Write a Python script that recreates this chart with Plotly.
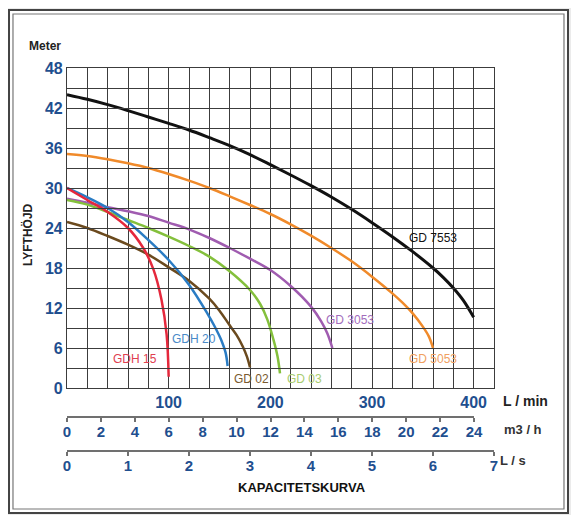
import plotly.graph_objects as go

# pump curves: flow in L/min, head in meter
gd7553_q = [0, 20, 40, 60, 80, 100, 120, 140, 160, 180, 200, 220, 240, 260, 280, 300, 320, 340,
            360, 370, 380, 390, 400]
gd7553_h = [44, 43.3, 42.5, 41.6, 40.65, 39.7, 38.7, 37.55, 36.35, 35, 33.5, 31.95, 30.35, 28.65,
            26.8, 24.8, 22.7, 20.45, 18, 16.6, 15, 13.1, 10.6]

gd5053_q = [0, 20, 40, 60, 80, 100, 120, 140, 160, 180, 200, 220, 240, 260, 280, 300, 320, 330,
            340, 350, 356, 360]
gd5053_h = [35.1, 34.8, 34.3, 33.7, 33, 32.1, 31.1, 30, 28.75, 27.45, 26.1, 24.55, 22.85, 21,
            19, 16.7, 14.2, 12.8, 11.2, 9.2, 7.7, 6]

gd3053_q = [0, 20, 40, 60, 80, 100, 120, 140, 160, 180, 200, 220, 240, 250, 256, 261]
gd3053_h = [28.4, 27.8, 27.1, 26.5, 25.8, 24.8, 23.8, 22.5, 21, 19.4, 17.7, 15.3, 12.2, 10, 8.2, 6]

gd03_q = [0, 20, 40, 60, 80, 100, 120, 140, 160, 180, 190, 197, 203, 207, 209.5]
gd03_h = [28.2, 27.5, 26.4, 25.2, 24, 22.7, 21.3, 19.7, 17.5, 14.7, 12.6, 10.3, 7.3, 4.8, 2.2]

gd02_q = [0, 20, 40, 60, 80, 100, 120, 140, 150, 160, 167, 173, 177, 180]
gd02_h = [24.9, 24, 22.8, 21.5, 20, 18.1, 16.1, 13.4, 11.6, 9.4, 7.9, 6.2, 4.7, 3.1]

gdh20_q = [0, 20, 40, 60, 80, 100, 120, 138, 145, 152, 156, 158]
gdh20_h = [30, 28.6, 27, 24.9, 22.2, 19.2, 15.5, 11.2, 9.3, 7.1, 5.3, 3.3]

gdh15_q = [0, 20, 40, 60, 75, 85, 93, 98, 100]
gdh15_h = [30, 28.2, 26.4, 24, 21, 17.8, 13.2, 8, 1.7]

# axis ticks
lmin_ticks = list(range(0, 421, 20))
lmin_labels = [str(v) if v in (100, 200, 300, 400) else "" for v in lmin_ticks]
head_ticks = list(range(0, 49, 3))
head_labels = [str(v) if v % 6 == 0 else "" for v in head_ticks]
m3h_ticks = list(range(0, 25, 2))
ls_ticks = list(range(0, 8))

BLUE = "#1f4f8f"
GRID = "#3c3c3c"

curves = [
    ("GD 3053", gd3053_q, gd3053_h, "#a05cb0", 2.5),
    ("GD 03", gd03_q, gd03_h, "#84c03c", 2.5),
    ("GD 02", gd02_q, gd02_h, "#6b4a1e", 2.5),
    ("GDH 20", gdh20_q, gdh20_h, "#2a7cc4", 2.5),
    ("GDH 15", gdh15_q, gdh15_h, "#e5283c", 2.5),
    ("GD 5053", gd5053_q, gd5053_h, "#f08a2a", 2.5),
    ("GD 7553", gd7553_q, gd7553_h, "#111111", 3),
]

fig = go.Figure()
for name, q, h, col, w in curves:
    fig.add_trace(go.Scatter(x=q, y=h, mode="lines", name=name,
                             line=dict(color=col, width=w, shape="spline", smoothing=1.0)))

# dummy traces so the extra flow axes get drawn
fig.add_trace(go.Scatter(x=[0, 24], y=[None, None], xaxis="x2", yaxis="y",
                         showlegend=False, hoverinfo="skip"))
fig.add_trace(go.Scatter(x=[0, 7], y=[None, None], xaxis="x3", yaxis="y",
                         showlegend=False, hoverinfo="skip"))

# curve labels (data coords)
labels = [
    ("GD 7553", 360, 22.5, "#111111"),
    ("GD 5053", 360, 4.3, "#f0a060"),
    ("GD 3053", 278, 10.2, "#a26cbc"),
    ("GD 03", 234, 1.4, "#a8cc70"),
    ("GD 02", 181, 1.3, "#7a5a30"),
    ("GDH 20", 125, 7.3, "#4a8ac8"),
    ("GDH 15", 67, 4.3, "#e04050"),
]
for txt, x, y, col in labels:
    fig.add_annotation(x=x, y=y, text=txt, showarrow=False,
                       font=dict(size=12, color=col, family="Liberation Sans"))

bold = dict(family="Liberation Sans", weight="bold")
side_texts = [
    ("Meter", -0.0515, 1.0574, 0, 12, "#222"),
    ("LYFTHÖJD", -0.0913, 0.564, -90, 12, "#222"),
    ("L / min", 1.0726, 0.1305, 0, 14, "#222"),
    ("m3 / h", 1.068, 0.0574, 0, 13, "#333"),
    ("L / s", 1.044, -0.0235, 0, 13, "#333"),
    ("KAPACITETSKURVA", 0.5504, -0.0966, 0, 13, "#111"),
]
for txt, x, y, ang, size, col in side_texts:
    fig.add_annotation(xref="paper", yref="paper", x=x, y=y, text=txt, textangle=ang,
                       xanchor="center", yanchor="middle", showarrow=False,
                       font=dict(size=size, color=col, **bold))

# double frame around the chart
fig.add_shape(type="rect", xref="paper", yref="paper", x0=-0.1358, x1=1.1733,
              y0=-0.1619, y1=1.1514, line=dict(color="#444", width=2),
              fillcolor="white", layer="below")
fig.add_shape(type="rect", xref="paper", yref="paper", x0=-0.1265, x1=1.1639,
              y0=-0.1514, y1=1.141, line=dict(color="#777", width=1.2), layer="below")

tick_font = dict(size=16, color=BLUE, **bold)
small_tick_font = dict(size=15, color=BLUE, **bold)
fig.update_layout(
    width=571, height=507,
    margin=dict(l=59, r=85, t=60, b=64),
    paper_bgcolor="#ebebeb", plot_bgcolor="rgba(0,0,0,0)",
    showlegend=False,
    xaxis=dict(range=[0, 420], tickmode="array", tickvals=lmin_ticks, ticktext=lmin_labels,
               showgrid=True, gridcolor=GRID, gridwidth=1.2, zeroline=False,
               showline=True, mirror=True, linecolor=GRID, linewidth=1.2,
               ticks="", tickfont=tick_font, anchor="y"),
    yaxis=dict(range=[0, 48], domain=[0.1645, 1], tickmode="array", tickvals=head_ticks,
               ticktext=head_labels, showgrid=True, gridcolor=GRID, gridwidth=1.2,
               zeroline=False, showline=True, mirror=True, linecolor=GRID, linewidth=1.2,
               ticks="", tickfont=tick_font, anchor="x"),
    xaxis2=dict(range=[0, 24], domain=[0, 0.9532], anchor="free", position=0.0888,
                tickmode="array", tickvals=m3h_ticks, showgrid=False, zeroline=False,
                showline=True, linecolor="#707070", linewidth=1.5,
                ticks="outside", ticklen=4, tickcolor="#707070", tickwidth=1.5,
                ticklabelstandoff=-3, tickfont=small_tick_font),
    xaxis3=dict(range=[0, 7], domain=[0, 1], anchor="free", position=0,
                tickmode="array", tickvals=ls_ticks, showgrid=False, zeroline=False,
                showline=True, linecolor="#707070", linewidth=1.5,
                ticks="outside", ticklen=4, tickcolor="#707070", tickwidth=1.5,
                ticklabelstandoff=-3, tickfont=small_tick_font),
)

fig.write_html("out.html")
